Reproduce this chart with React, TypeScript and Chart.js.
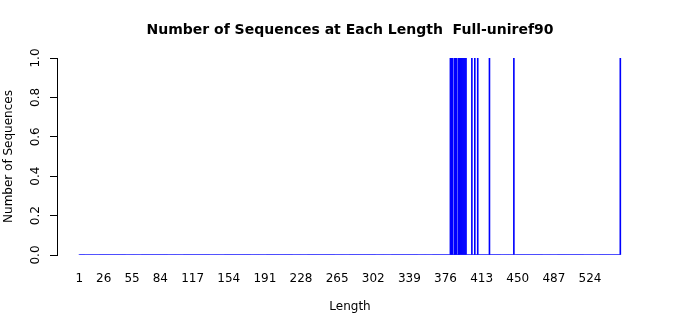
import React, { useEffect, useRef } from "react";
import { Chart, registerables } from "chart.js";

Chart.register(...registerables);

const TITLE = "Number of Sequences at Each Length  Full-uniref90";
const X_TITLE = "Length";
const Y_TITLE = "Number of Sequences";

// Lengths 1..MAX_LENGTH are the categories; only these lengths have sequences.
const MAX_LENGTH = 555;
const observedLengths = [381, 382, 383, 385, 386, 387, 389, 390, 391, 392, 393, 394, 395, 396, 397, 403, 406, 409, 421, 446, 555];
const observedCounts = [1, 1, 1, 1, 1, 1, 1, 1, 1, 1, 1, 1, 1, 1, 1, 1, 1, 1, 1, 1, 1];
const xTickLabels = [1, 26, 55, 84, 117, 154, 191, 228, 265, 302, 339, 376, 413, 450, 487, 524];
const yTickValues = [0, 0.2, 0.4, 0.6, 0.8, 1.0];

const X_MIN = -21.84;
const X_MAX = 636.6;
const FONT = "DejaVu Sans";

export default function App() {
  const ref = useRef<HTMLCanvasElement | null>(null);

  useEffect(() => {
    if (!ref.current) return;
    const allLengths: number[] = [];
    for (let l = 1; l <= MAX_LENGTH; l++) allLengths.push(l);
    const countFor = (l: number) => {
      const i = observedLengths.indexOf(l);
      return i >= 0 ? observedCounts[i] : 0;
    };
    const barData = allLengths.map((l) => ({ x: l, y: countFor(l) }));
    const baseData = allLengths.map((l) => ({ x: l, y: 0 }));

    const axisTextPlugin = {
      id: "axisText",
      afterDraw(chart: any) {
        const ys = chart.scales.y;
        const ctx = chart.ctx;
        ctx.save();
        ctx.font = `12px "${FONT}"`;
        ctx.fillStyle = "#000";
        ctx.textAlign = "center";
        ctx.textBaseline = "middle";
        yTickValues.forEach((v) => {
          const py = ys.getPixelForValue(v);
          ctx.save();
          ctx.translate(ys.right - 21, py);
          ctx.rotate(-Math.PI / 2);
          ctx.fillText(v.toFixed(1), 0, 0);
          ctx.restore();
        });
        // x-axis title centred on the whole figure
        ctx.fillText(X_TITLE, chart.width / 2, chart.height - 8);
        ctx.restore();
      },
    };

    const chart = new Chart(ref.current, {
      type: "bar",
      data: {
        datasets: [
          {
            type: "bar",
            data: barData,
            backgroundColor: "#0000FF",
            borderWidth: 0,
            barPercentage: 1,
            categoryPercentage: 1,
          } as any,
          {
            type: "line",
            data: baseData,
            borderColor: "#0000FF",
            borderWidth: 1,
            pointRadius: 0,
            fill: false,
          } as any,
        ],
      },
      options: {
        responsive: false,
        animation: false,
        layout: { padding: { left: 0, right: 0, top: 0, bottom: 0 } },
        plugins: {
          legend: { display: false },
          tooltip: { enabled: false },
          title: {
            display: true,
            text: TITLE,
            color: "#000",
            font: { family: FONT, size: 14, weight: "bold" },
            padding: { top: 21.5, bottom: 19.7 },
          },
        },
        scales: {
          x: {
            type: "linear",
            min: X_MIN,
            max: X_MAX,
            offset: false,
            grid: { display: false, drawTicks: false },
            border: { display: false },
            afterBuildTicks: (s: any) => {
              s.ticks = xTickLabels.map((v) => ({ value: v }));
            },
            afterFit: (s: any) => {
              s.height = 60;
            },
            ticks: {
              autoSkip: false,
              maxRotation: 0,
              minRotation: 0,
              padding: 17,
              color: "#000",
              font: { family: FONT, size: 12 },
              callback: (v: any) => String(v),
            },
            title: { display: false },
          },
          y: {
            min: 0,
            max: 1,
            afterBuildTicks: (s: any) => {
              s.ticks = yTickValues.map((v) => ({ value: v }));
            },
            afterFit: (s: any) => {
              s.width = 57;
            },
            ticks: { display: false },
            grid: {
              drawOnChartArea: false,
              drawTicks: true,
              tickLength: 7,
              color: "#000",
              lineWidth: 1,
            },
            border: { display: true, color: "#000", width: 1 },
            title: {
              display: true,
              text: Y_TITLE,
              color: "#000",
              font: { family: FONT, size: 12 },
              padding: { top: 2, bottom: 0 },
            },
          },
        },
      },
      plugins: [axisTextPlugin],
    });
    return () => chart.destroy();
  }, []);

  return (
    <div style={{ position: "absolute", left: 0, top: 0, width: 700, height: 315, background: "#fff" }}>
      <canvas ref={ref} width={700} height={315} style={{ width: 700, height: 315 }} />
    </div>
  );
}
